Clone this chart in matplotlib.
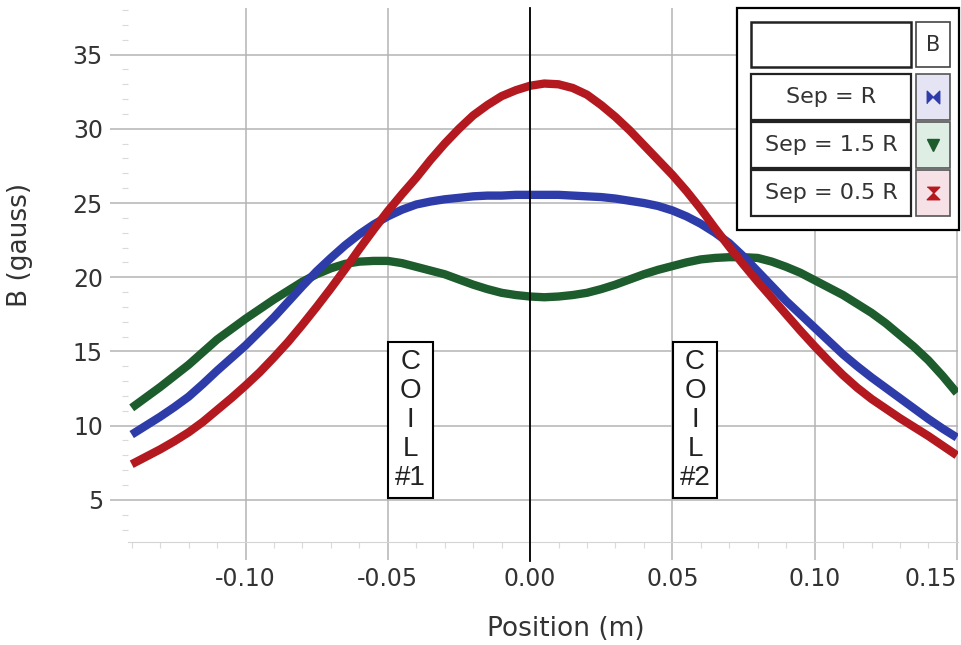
import numpy as np
import matplotlib.pyplot as plt
from matplotlib.patches import Rectangle

# Helmholtz coil field along the axis, every 5 mm
position = np.round(np.arange(-0.14, 0.1501, 0.005), 3)
sep_r = [9.4, 10.0, 10.6, 11.25, 11.95, 12.8, 13.7, 14.55, 15.4, 16.35,
         17.3, 18.35, 19.4, 20.4, 21.3, 22.15, 22.9, 23.55, 24.1, 24.55,
         24.9, 25.1, 25.25, 25.35, 25.45, 25.5, 25.5, 25.55, 25.55, 25.55,
         25.55, 25.5, 25.45, 25.4, 25.3, 25.15, 25.0, 24.8, 24.5, 24.1,
         23.6, 23.0, 22.3, 21.4, 20.4, 19.4, 18.4, 17.5, 16.6, 15.7,
         14.8, 14.0, 13.25, 12.55, 11.85, 11.15, 10.45, 9.8, 9.2]
sep_15r = [11.2, 11.9, 12.6, 13.35, 14.1, 14.95, 15.8, 16.5, 17.2, 17.85,
           18.5, 19.1, 19.7, 20.2, 20.6, 20.9, 21.05, 21.1, 21.1, 20.95,
           20.7, 20.45, 20.2, 19.85, 19.5, 19.2, 18.95, 18.8, 18.7, 18.65,
           18.7, 18.8, 18.95, 19.2, 19.5, 19.85, 20.2, 20.5, 20.75, 21.0,
           21.2, 21.3, 21.35, 21.35, 21.3, 21.05, 20.7, 20.3, 19.8, 19.3,
           18.8, 18.2, 17.6, 16.9, 16.1, 15.3, 14.4, 13.35, 12.2]
sep_05r = [7.4, 7.9, 8.4, 8.95, 9.55, 10.25, 11.05, 11.85, 12.7, 13.6,
           14.6, 15.65, 16.8, 18.0, 19.25, 20.55, 21.9, 23.2, 24.45, 25.6,
           26.7, 27.9, 29.0, 30.0, 30.9, 31.6, 32.2, 32.6, 32.9, 33.05,
           33.0, 32.75, 32.3, 31.6, 30.8, 29.9, 28.9, 27.9, 26.9, 25.8,
           24.6, 23.3, 22.05, 20.85, 19.7, 18.6, 17.5, 16.4, 15.35, 14.35,
           13.4, 12.55, 11.8, 11.15, 10.5, 9.9, 9.3, 8.65, 8.0]

series_labels = ["Sep = R", "Sep = 1.5 R", "Sep = 0.5 R"]
xtick_values = [-0.10, -0.05, 0.00, 0.05, 0.10, 0.15]
xtick_labels = ["-0.10", "-0.05", "0.00", "0.05", "0.10", "0.15"]
ytick_values = [5, 10, 15, 20, 25, 30, 35]
coil_labels = ["C\nO\nI\nL\n#1", "C\nO\nI\nL\n#2"]
coil_x = [-0.042, 0.058]

blue = "#2e3caa"
green = "#1d5c2c"
red = "#b3191f"

bowtie = [(-1, -1), (-1, 1), (0, 0), (1, 1), (1, -1), (0, 0)]
hourglass = [(-1, 1), (1, 1), (0, 0), (1, -1), (-1, -1), (0, 0)]

plt.rcParams["font.family"] = ["DejaVu Sans"]
plt.rcParams["axes.unicode_minus"] = False

W, H = 961, 645
fig = plt.figure(figsize=(W / 100, H / 100), dpi=100)
ax = fig.add_axes([128 / W, 1 - 542 / H, 830 / W, 534 / H])

ax.plot(position, sep_15r, color=green, lw=6, solid_capstyle="butt", zorder=3)
ax.plot(position, sep_r, color=blue, lw=6, solid_capstyle="butt", zorder=3.1)
ax.plot(position, sep_05r, color=red, lw=6, solid_capstyle="butt", zorder=3.2)

ax.set_xlim(-0.1413, 0.1504)
ax.set_ylim(2.16, 38.14)
ax.set_xticks(xtick_values)
ax.set_xticklabels(xtick_labels)
ax.get_xticklabels()[-1].set_horizontalalignment("right")
ax.set_xticks(np.arange(-0.14, 0.151, 0.01), minor=True)
ax.set_yticks(ytick_values)
ax.set_yticks(np.arange(3, 39, 1), minor=True)

ax.grid(which="major", color="#b4b4b4", lw=1.1)
ax.tick_params(which="major", length=13, width=1.1, color="#b4b4b4",
               labelsize=17, labelcolor="#333333", pad=5)
ax.tick_params(which="minor", length=4, width=0.8, color="#dadada")
for side in ["top", "right", "left"]:
    ax.spines[side].set_visible(False)
ax.spines["bottom"].set_color("#d4d4d4")

ax.axvline(0, ymin=-0.035, ymax=1, color="black", lw=1.3, clip_on=False, zorder=5)

ax.set_xlabel("Position (m)", fontsize=19, color="#333333")
ax.xaxis.set_label_coords(0.527, -0.138)
ax.set_ylabel("B (gauss)", fontsize=19, color="#333333")
ax.yaxis.set_label_coords(-0.115, 0.556)

for lbl, cx in zip(coil_labels, coil_x):
    ax.text(cx, 10.4, lbl, ha="center", va="center", ma="center", fontsize=20,
            family="Liberation Sans", linespacing=1.15, color="#222222", zorder=4,
            bbox=dict(boxstyle="square,pad=0.25", fc="white", ec="black", lw=1.5))

# table-like legend in the top right corner, in pixel coordinates
lax = fig.add_axes([0, 0, 1, 1])
lax.set_xlim(0, W)
lax.set_ylim(H, 0)
lax.axis("off")
lax.add_patch(Rectangle((737, 8), 222, 222, fc="white", ec="black", lw=1.6))
lax.add_patch(Rectangle((751, 22), 160, 45, fc="white", ec="#222222", lw=1.8))
lax.add_patch(Rectangle((916, 22), 34, 45, fc="white", ec="#444444", lw=1.2))
lax.text(933, 45, "B", ha="center", va="center", fontsize=15, color="#333333")

markers = [(bowtie, blue, "#e4e4f4"), ("v", green, "#dfeee5"), (hourglass, red, "#f6e2e6")]
for i, (label, (mk, col, bg)) in enumerate(zip(series_labels, markers)):
    y0 = 74 + i * 48
    lax.add_patch(Rectangle((751, y0), 160, 46, fc="white", ec="#222222", lw=1.6))
    lax.add_patch(Rectangle((916, y0), 34, 46, fc=bg, ec="#555555", lw=1.2))
    lax.text(831, y0 + 23, label, ha="center", va="center", fontsize=16, color="#333333")
    lax.plot([933], [y0 + 23], marker=mk, color=col, ms=9, mec=col, ls="none")

fig.savefig("out.png", dpi=100)
